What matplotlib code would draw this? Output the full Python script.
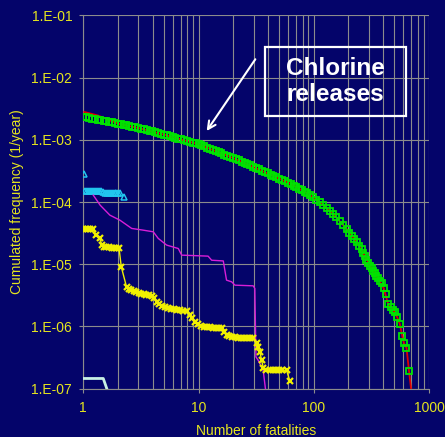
import matplotlib
matplotlib.use("Agg")
import matplotlib.pyplot as plt
from matplotlib.patches import Rectangle
from matplotlib.ticker import FixedLocator, NullFormatter, LogLocator

# Chlorine releases - cumulated frequency vs number of fatalities
green_x = [1.00, 1.06, 1.12, 1.19, 1.26, 1.33, 1.41, 1.50, 1.58, 1.68,
           1.78, 1.88, 2.00, 2.11, 2.24, 2.37, 2.51, 2.66, 2.82, 2.99,
           3.16, 3.35, 3.55, 3.76, 3.98, 4.22, 4.47, 4.73, 5.01, 5.31,
           5.62, 5.96, 6.31, 6.68, 7.08, 7.50, 7.94, 8.41, 8.91, 9.44,
           10.0, 10.6, 11.2, 11.9, 12.6, 13.3, 14.1, 15.0, 15.8, 16.8,
           17.8, 18.8, 20.0, 21.1, 22.4, 23.7, 25.1, 26.6, 28.2, 29.9,
           31.6, 33.5, 35.5, 37.6, 39.8, 42.2, 44.7, 47.3, 50.1, 53.1,
           56.2, 59.6, 63.1, 66.8, 70.8, 75.0, 79.4, 83.2,
           87.1, 92.5, 98.2, 105, 113, 121, 130, 138, 146, 157,
           168, 181, 194, 204, 214, 225, 237, 249, 261, 269,
           277, 286, 294, 307, 319, 329, 339, 349, 360, 374,
           389, 406, 422, 442, 467, 489, 506, 528, 558, 585,
           608, 638, 671]
green_y = [2.32e-3, 2.28e-3, 2.23e-3, 2.19e-3, 2.15e-3, 2.11e-3, 2.07e-3, 2.02e-3, 1.98e-3, 1.94e-3,
           1.90e-3, 1.86e-3, 1.82e-3, 1.78e-3, 1.74e-3, 1.71e-3, 1.67e-3, 1.63e-3, 1.60e-3, 1.56e-3,
           1.51e-3, 1.48e-3, 1.44e-3, 1.40e-3, 1.36e-3, 1.33e-3, 1.29e-3, 1.25e-3, 1.21e-3, 1.18e-3,
           1.14e-3, 1.11e-3, 1.08e-3, 1.04e-3, 1.01e-3, 9.84e-4, 9.55e-4, 9.27e-4, 8.99e-4, 8.73e-4,
           8.45e-4, 8.13e-4, 7.80e-4, 7.48e-4, 7.18e-4, 6.89e-4, 6.61e-4, 6.32e-4, 6.05e-4, 5.79e-4,
           5.55e-4, 5.31e-4, 5.08e-4, 4.86e-4, 4.65e-4, 4.45e-4, 4.26e-4, 4.06e-4, 3.89e-4, 3.70e-4,
           3.52e-4, 3.34e-4, 3.18e-4, 3.03e-4, 2.88e-4, 2.74e-4, 2.61e-4, 2.48e-4, 2.36e-4, 2.25e-4,
           2.14e-4, 2.05e-4, 1.95e-4, 1.83e-4, 1.73e-4, 1.63e-4, 1.54e-4, 1.46e-4,
           1.39e-4, 1.29e-4, 1.20e-4, 1.09e-4, 9.95e-5, 8.91e-5, 7.98e-5, 7.19e-5, 6.50e-5, 5.71e-5,
           5.02e-5, 4.29e-5, 3.66e-5, 3.22e-5, 2.83e-5, 2.53e-5, 2.26e-5, 1.99e-5, 1.75e-5, 1.53e-5,
           1.35e-5, 1.19e-5, 1.05e-5, 9.48e-6, 8.55e-6, 7.80e-6, 7.11e-6, 6.49e-6, 5.92e-6, 5.38e-6,
           4.91e-6, 4.08e-6, 3.30e-6, 2.29e-6, 2.07e-6, 1.87e-6, 1.68e-6, 1.43e-6, 1.10e-6, 7.16e-7,
           5.33e-7, 4.53e-7, 1.93e-7]

red_x = [1.02, 1.34, 2.00, 3.16, 5.01, 10.0, 20.0, 39.8, 63.1, 87.1, 113, 146, 194, 237,
         277, 319, 360, 406, 442, 489, 528, 558, 585, 608, 638, 671, 701]
red_y = [2.80e-3, 2.45e-3, 1.82e-3, 1.51e-3, 1.21e-3, 8.45e-4, 5.08e-4, 2.88e-4, 1.95e-4, 1.39e-4,
         9.95e-5, 6.50e-5, 3.66e-5, 2.26e-5, 1.35e-5, 8.55e-6, 5.92e-6, 4.08e-6, 2.29e-6, 1.87e-6,
         1.43e-6, 1.10e-6, 7.16e-7, 5.33e-7, 4.53e-7, 1.93e-7, 9.5e-8]

cyan_x = [1.02, 1.03, 1.08, 1.12, 1.17, 1.22, 1.27, 1.32, 1.38, 1.43, 1.48,
          1.54, 1.60, 1.67, 1.73, 1.80, 1.87, 1.94, 2.02, 2.09, 2.24]
cyan_y = [2.81e-4, 1.52e-4, 1.51e-4, 1.51e-4, 1.51e-4, 1.51e-4, 1.50e-4, 1.50e-4, 1.50e-4, 1.49e-4, 1.47e-4,
          1.41e-4, 1.41e-4, 1.41e-4, 1.40e-4, 1.40e-4, 1.40e-4, 1.40e-4, 1.39e-4, 1.39e-4, 1.20e-4]

magenta_x = [1.22, 1.40, 1.70, 2.08, 2.63, 3.31, 4.05, 4.47, 5.29, 6.67, 7.14, 12.1,
             13.0, 16.4, 17.5, 19.4, 20.7, 29.8, 30.8, 31.5, 32.9, 36.4, 38.2]
magenta_y = [1.29e-4, 8.9e-5, 6.15e-5, 5.1e-5, 3.76e-5, 3.53e-5, 3.32e-5, 2.60e-5, 2.03e-5, 1.79e-5,
             1.40e-5, 1.35e-5, 1.16e-5, 1.13e-5, 5.55e-6, 5.21e-6, 4.61e-6, 4.50e-6, 4.09e-6, 3.24e-7,
             2.87e-7, 1.98e-7, 9.5e-8]

yellow_x = [1.00, 1.045, 1.10, 1.154, 1.214, 1.297, 1.387, 1.453,
            1.512, 1.589, 1.671, 1.757, 1.846, 1.941, 2.040, 2.136,
            2.379, 2.491, 2.618, 2.752, 2.893, 3.042, 3.198, 3.362, 3.533, 3.714, 3.920,
            4.105, 4.331, 4.580, 4.815, 5.112, 5.428, 5.763, 6.118, 6.495, 6.898, 7.322, 7.885,
            8.421, 8.852, 9.306, 9.881, 10.49, 11.14, 11.83, 12.56, 13.34, 14.16, 15.03, 15.86,
            16.61, 17.53, 18.53, 19.49, 20.69, 21.97, 23.32, 24.76, 26.29, 27.91, 29.82,
            31.91, 32.95, 34.09, 35.27, 36.41,
            38.81, 41.63, 44.19, 46.92, 49.82, 53.43, 58.07, 62.05]
yellow_y = [3.63e-5, 3.63e-5, 3.63e-5, 3.63e-5, 3.63e-5, 2.94e-5, 2.60e-5, 2.03e-5,
            1.92e-5, 1.88e-5, 1.86e-5, 1.85e-5, 1.84e-5, 1.84e-5, 1.84e-5, 9.08e-6,
            4.24e-6, 4.06e-6, 3.91e-6, 3.77e-6, 3.63e-6, 3.43e-6, 3.37e-6, 3.31e-6, 3.25e-6, 3.19e-6, 3.13e-6,
            2.85e-6, 2.49e-6, 2.28e-6, 2.12e-6, 2.04e-6, 1.97e-6, 1.91e-6, 1.88e-6, 1.84e-6, 1.82e-6, 1.79e-6, 1.78e-6,
            1.52e-6, 1.36e-6, 1.19e-6, 1.09e-6, 1.01e-6, 9.86e-7, 9.75e-7, 9.64e-7, 9.57e-7, 9.46e-7, 9.40e-7, 9.29e-7,
            8.25e-7, 7.24e-7, 6.98e-7, 6.81e-7, 6.73e-7, 6.65e-7, 6.61e-7, 6.53e-7, 6.49e-7, 6.44e-7, 6.41e-7,
            5.33e-7, 4.65e-7, 3.91e-7, 2.87e-7, 2.19e-7,
            2.02e-7, 1.98e-7, 1.98e-7, 1.98e-7, 1.98e-7, 1.98e-7, 1.98e-7, 1.33e-7]

pale_x = [1.00, 1.49, 1.615]
pale_y = [1.46e-7, 1.46e-7, 9.5e-8]

y_ticks = [1e-7, 1e-6, 1e-5, 1e-4, 1e-3, 1e-2, 1e-1]
y_tick_labels = ["1.E-07", "1.E-06", "1.E-05", "1.E-04", "1.E-03", "1.E-02", "1.E-01"]
x_ticks = [1, 10, 100, 1000]
x_tick_labels = ["1", "10", "100", "1000"]

navy = "#04046a"
grid_col = "#8c8c8c"
txt_col = "#e6e61e"

plt.rcParams['font.family'] = ['Liberation Sans', 'DejaVu Sans']

fig = plt.figure(figsize=(4.45, 4.37), dpi=100, facecolor=navy)
ax = fig.add_axes([0.1872, 0.1105, 0.7768, 0.8545])
ax.set_facecolor(navy)
ax.set_xscale('log')
ax.set_yscale('log')
ax.set_xlim(1, 1000)
ax.set_ylim(1e-7, 1e-1)

# grid: x major+minor, y major only
ax.xaxis.set_minor_locator(LogLocator(base=10, subs=range(2, 10)))
ax.xaxis.set_minor_formatter(NullFormatter())
ax.yaxis.set_minor_locator(FixedLocator([]))
ax.grid(True, which='major', axis='both', color=grid_col, lw=0.8)
ax.grid(True, which='minor', axis='x', color=grid_col, lw=0.8)
ax.set_axisbelow(True)

ax.set_yticks(y_ticks)
ax.set_yticklabels(y_tick_labels)
ax.set_xticks(x_ticks)
ax.set_xticklabels(x_tick_labels)
ax.tick_params(which='major', length=3, color=grid_col, labelcolor=txt_col, labelsize=10)
ax.tick_params(axis='y', pad=5)
ax.tick_params(axis='x', pad=6)
ax.tick_params(which='minor', length=0)
for s in ['top', 'right']:
    ax.spines[s].set_visible(False)
for s in ['bottom', 'left']:
    ax.spines[s].set_color(grid_col)

# series
ax.plot(red_x, red_y, color='#e00000', lw=1.3, zorder=3)
ax.plot(green_x, green_y, ls='none', marker='s', ms=5.0, mfc='none', mec='#00e400', mew=1.3, zorder=4)
ax.plot(cyan_x, cyan_y, ls='none', marker='^', ms=4.6, mfc='none', mec='#22c8f0', mew=1.1, zorder=4)
ax.plot(magenta_x, magenta_y, color='#d81ed8', lw=1.0, zorder=4)
ax.plot(yellow_x, yellow_y, color='#f0f000', lw=1.0, marker='x', ms=4.6, mew=1.6, zorder=5)
ax.plot(pale_x, pale_y, color='#c8f0e4', lw=2.0, zorder=4)

ax.set_xlabel("Number of fatalities", color=txt_col, fontsize=10)
ax.set_ylabel("Cumulated frequency (1/year)", color=txt_col, fontsize=10)
ax.xaxis.set_label_coords(0.5, -0.095)
ax.yaxis.set_label_coords(-0.172, 0.5)

# annotation box and arrow
ax.add_patch(Rectangle((0.5256, 0.7303), 0.408, 0.1856, transform=ax.transAxes,
                       fill=False, ec='white', lw=1.6, zorder=6))
ax.text(0.7295, 0.823, "Chlorine\nreleases", transform=ax.transAxes, ha='center', va='center',
        color='white', fontsize=17.5, fontweight='bold', linespacing=1.15, zorder=6)
ax.annotate('', xy=(11.4, 1.27e-3), xytext=(32.1, 2.14e-2),
            arrowprops=dict(arrowstyle='->', color='white', lw=1.5, mutation_scale=14), zorder=6)

fig.savefig("out.png", dpi=100, facecolor=navy)
